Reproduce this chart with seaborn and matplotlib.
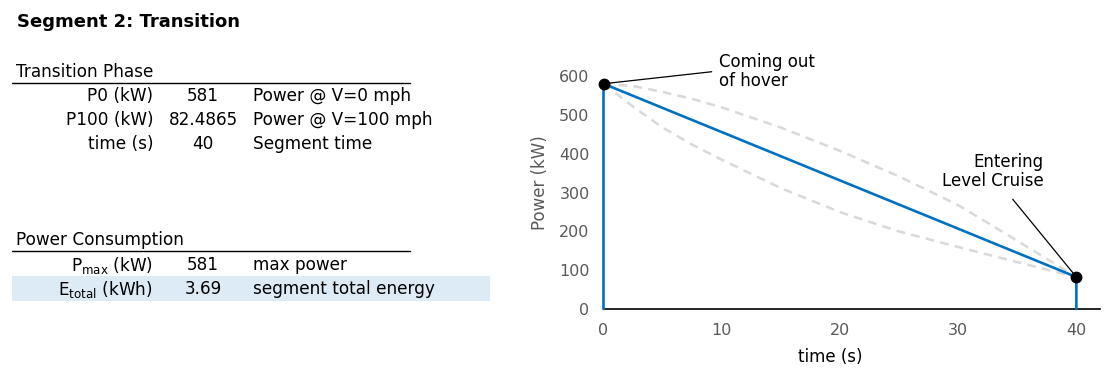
import matplotlib
matplotlib.use("Agg")
import matplotlib.pyplot as plt
import seaborn as sns
import pandas as pd
from matplotlib.lines import Line2D
from matplotlib.patches import Rectangle

# segment data
p0 = 581
p100 = 82.4865
seg_time = 40
p_max = 581
e_total = 3.69

# main (linear) power profile, incl. the vertical drop lines at both ends
t_main = [0, 0, 40, 40]
p_main = [0, 581, 82.4865, 0]

# grey dashed alternative profiles
t_alt = [0, 2.5, 5, 7.5, 10, 15, 20, 25, 30, 35, 40]
p_upper = [581, 575, 560, 542, 520, 468, 408, 342, 268, 176, 82.4865]
p_lower = [581, 522, 468, 424, 385, 312, 250, 200, 160, 121, 82.4865]

xticks = [0, 10, 20, 30, 40]
yticks = [0, 100, 200, 300, 400, 500, 600]

sns.set_style("white")
plt.rcParams['font.family'] = ['DejaVu Sans']
plt.rcParams['text.color'] = 'black'

W, H = 1110, 376
fig = plt.figure(figsize=(W / 100, H / 100), dpi=100)


def fx(px):
    return px / W


def fy(py):
    return 1 - py / H


ax = fig.add_axes([fx(603.5), fy(309), fx(1100) - fx(603.5), fy(57) - fy(309)])

for p_alt in [p_upper, p_lower]:
    alt = pd.DataFrame({'t': t_alt, 'p': p_alt})
    sns.lineplot(data=alt, x='t', y='p', ax=ax, color='#d9d9d9', lw=1.8,
                 estimator=None, linestyle=(0, (3.5, 2.5)), sort=False)

main = pd.DataFrame({'t': t_main, 'p': p_main})
sns.lineplot(data=main, x='t', y='p', ax=ax, color='#0070c0', lw=1.9,
             estimator=None, sort=False, clip_on=False, zorder=4)
ax.plot([0, seg_time], [p0, p100], 'o', color='black', ms=7.5, zorder=5, clip_on=False)

ax.set_xlim(0, 42)
ax.set_ylim(0, 650)
ax.set_xticks(xticks)
ax.set_yticks(yticks)
ax.tick_params(length=0, labelsize=11.5, labelcolor='#595959', pad=10)
for s in ['top', 'right', 'left']:
    ax.spines[s].set_visible(False)
ax.spines['bottom'].set_color('black')
ax.spines['bottom'].set_linewidth(1.2)
ax.set_xlabel('time (s)', fontsize=12, color='black')
ax.set_ylabel('Power (kW)', fontsize=12, color='#595959')
ax.xaxis.set_label_coords(0.456, -0.155)
ax.yaxis.set_label_coords(-0.11, 0.5)

ax.annotate('Coming out\nof hover', xy=(0, p0), xytext=(9.8, 612),
            fontsize=12, ha='left', va='center', linespacing=1.05,
            arrowprops=dict(arrowstyle='-', color='black', lw=0.9,
                            shrinkA=0, shrinkB=0, relpos=(-0.08, 0.5)),
            annotation_clip=False)
ax.annotate('Entering\nLevel Cruise', xy=(seg_time, p100), xytext=(37.2, 354),
            fontsize=12, ha='right', va='center', linespacing=1.05,
            arrowprops=dict(arrowstyle='-', color='black', lw=0.9,
                            shrinkA=0, shrinkB=0, relpos=(0.7, -0.25)),
            annotation_clip=False)

# left text panel
fs = 12.2
fig.text(fx(17), fy(22), 'Segment 2: Transition', fontsize=13, fontweight='bold',
         ha='left', va='center')

fig.text(fx(16), fy(72), 'Transition Phase', fontsize=fs, ha='left', va='center')
fig.add_artist(Line2D([fx(12), fx(410)], [fy(83), fy(83)], color='black', lw=1))
rows1 = [('P0 (kW)', '581', 'Power @ V=0 mph'),
         ('P100 (kW)', '82.4865', 'Power @ V=100 mph'),
         ('time (s)', '40', 'Segment time')]
for i, (lab, val, desc) in enumerate(rows1):
    y = fy(96 + 24 * i)
    fig.text(fx(153), y, lab, fontsize=fs, ha='right', va='center')
    fig.text(fx(203), y, val, fontsize=fs, ha='center', va='center')
    fig.text(fx(253), y, desc, fontsize=fs, ha='left', va='center')

fig.text(fx(16), fy(240), 'Power Consumption', fontsize=fs, ha='left', va='center')
fig.add_artist(Line2D([fx(12), fx(410)], [fy(251), fy(251)], color='black', lw=1))
fig.add_artist(Rectangle((fx(12), fy(301)), fx(490) - fx(12), fy(276) - fy(301),
                         color='#ddebf7', lw=0, zorder=0))
rows2 = [(r'P$_{\mathregular{max}}$ (kW)', '581', 'max power'),
         (r'E$_{\mathregular{total}}$ (kWh)', '3.69', 'segment total energy')]
for i, (lab, val, desc) in enumerate(rows2):
    y = fy(265 + 24 * i)
    fig.text(fx(153), y, lab, fontsize=fs, ha='right', va='center')
    fig.text(fx(203), y, val, fontsize=fs, ha='center', va='center')
    fig.text(fx(253), y, desc, fontsize=fs, ha='left', va='center')

fig.savefig('out.png', dpi=100)
